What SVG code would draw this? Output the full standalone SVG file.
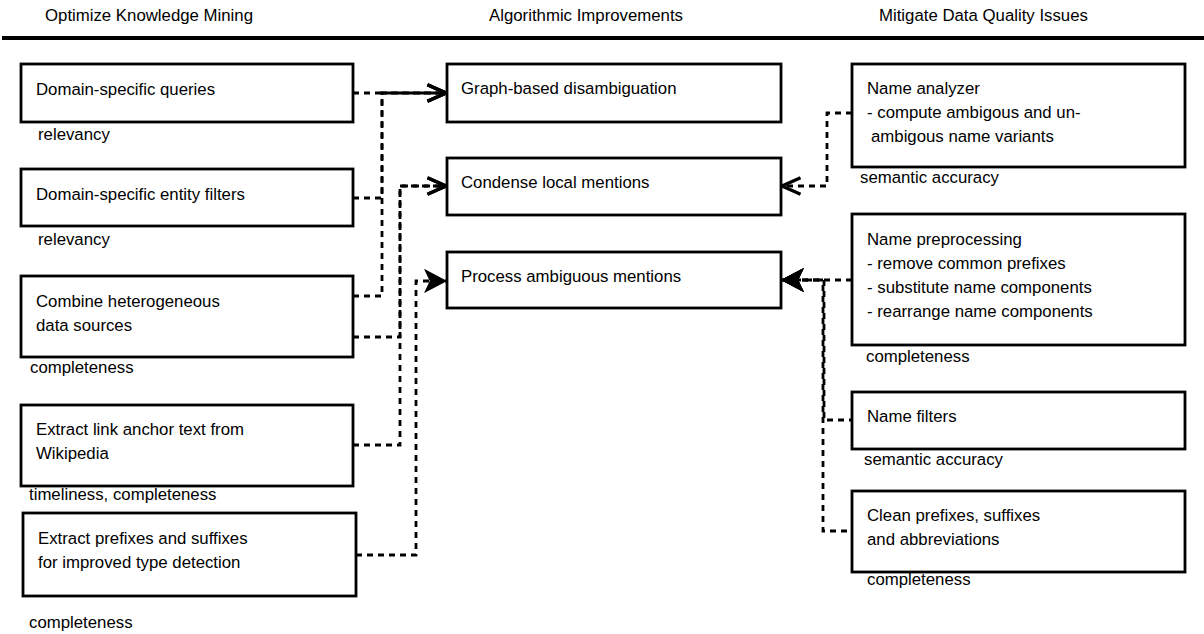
<svg xmlns="http://www.w3.org/2000/svg" width="1204" height="634" viewBox="0 0 1204 634">
<defs>
<style>
text{font-family:"Liberation Sans",Arial,Helvetica,sans-serif;font-size:16.8px;fill:#000}
.box{fill:#fff;stroke:#000;stroke-width:2.8}
.con{fill:none;stroke:#000;stroke-width:2.8;stroke-dasharray:6 5}
.open{marker-end:url(#openArrow)}
.fill{marker-end:url(#filledArrow)}
</style>
<marker id="openArrow" markerUnits="userSpaceOnUse" markerWidth="24" markerHeight="24" viewBox="-2 -2 22 20" refX="17" refY="8" orient="auto">
<path d="M0,0.5 L17,8 L0,15.5" fill="none" stroke="#000" stroke-width="3" stroke-dasharray="none"/>
</marker>
<marker id="filledArrow" markerUnits="userSpaceOnUse" markerWidth="24" markerHeight="24" viewBox="-1 -1 23 23" refX="20" refY="10.5" orient="auto">
<path d="M0,0 L20,10.5 L0,21 L5,10.5 Z" fill="#000" stroke="#000" stroke-width="1" stroke-dasharray="none"/>
</marker>
</defs>

<g id="header">
<text x="45" y="21">Optimize Knowledge Mining</text>
<text x="489" y="21">Algorithmic Improvements</text>
<text x="879" y="21">Mitigate Data Quality Issues</text>
<line x1="2" y1="38" x2="1204" y2="38" stroke="#000" stroke-width="4"/>
</g>

<g id="connectors">
<path class="con open" d="M353,93 H446"/>
<path class="con open" d="M353,198 H382 V93 H446"/>
<path class="con open" d="M353,296 H382 V93 H446"/>
<path class="con open" d="M353,337 H400 V186 H446"/>
<path class="con open" d="M353,445 H400 V186 H446"/>
<path class="con fill" d="M356,555 H416 V281 H446"/>
<path class="con open" d="M852,113 H827 V186 H782"/>
<path class="con fill" d="M852,280 H782"/>
<path class="con fill" d="M852,420 H824 V280 H782" style="stroke-dashoffset:3"/>
<path class="con fill" d="M852,531 H823 V280 H782" style="stroke-dashoffset:6"/>
</g>

<g id="domain-queries">
<rect class="box" x="21" y="64" width="332" height="58"/>
<text x="36" y="94.5">Domain-specific queries</text>
<text x="38" y="140">relevancy</text>
</g>
<g id="entity-filters">
<rect class="box" x="21" y="169" width="332" height="57"/>
<text x="36" y="199.5">Domain-specific entity filters</text>
<text x="38" y="245">relevancy</text>
</g>
<g id="combine-sources">
<rect class="box" x="21" y="276" width="332" height="81"/>
<text x="36" y="306.5">Combine heterogeneous</text>
<text x="36" y="330.5">data sources</text>
<text x="30" y="373">completeness</text>
</g>
<g id="link-anchor">
<rect class="box" x="21" y="405" width="332" height="81"/>
<text x="36" y="435">Extract link anchor text from</text>
<text x="36" y="459">Wikipedia</text>
<text x="29" y="500">timeliness, completeness</text>
</g>
<g id="prefixes-suffixes">
<rect class="box" x="23" y="513" width="333" height="83"/>
<text x="38" y="544">Extract prefixes and suffixes</text>
<text x="38" y="568">for improved type detection</text>
<text x="29" y="628">completeness</text>
</g>

<g id="graph-based">
<rect class="box" x="447" y="64" width="334" height="58"/>
<text x="461" y="94">Graph-based disambiguation</text>
</g>
<g id="condense">
<rect class="box" x="447" y="158" width="334" height="57"/>
<text x="461" y="188">Condense local mentions</text>
</g>
<g id="process-ambiguous">
<rect class="box" x="447" y="252" width="334" height="56"/>
<text x="461" y="282">Process ambiguous mentions</text>
</g>

<g id="name-analyzer">
<rect class="box" x="852" y="64" width="333" height="103"/>
<text x="867" y="93.5">Name analyzer</text>
<text x="867" y="117.5">- compute ambigous and un-</text>
<text x="871" y="141.5">ambigous name variants</text>
<text x="860" y="183">semantic accuracy</text>
</g>
<g id="name-preprocessing">
<rect class="box" x="852" y="214" width="333" height="131"/>
<text x="867" y="245">Name preprocessing</text>
<text x="867" y="269">- remove common prefixes</text>
<text x="867" y="293">- substitute name components</text>
<text x="867" y="317">- rearrange name components</text>
<text x="866" y="361.5">completeness</text>
</g>
<g id="name-filters">
<rect class="box" x="852" y="392" width="333" height="57"/>
<text x="867" y="421.5">Name filters</text>
<text x="864" y="465">semantic accuracy</text>
</g>
<g id="clean-prefixes">
<rect class="box" x="852" y="491" width="333" height="81"/>
<text x="867" y="521">Clean prefixes, suffixes</text>
<text x="867" y="545">and abbreviations</text>
<text x="867" y="585">completeness</text>
</g>
</svg>
